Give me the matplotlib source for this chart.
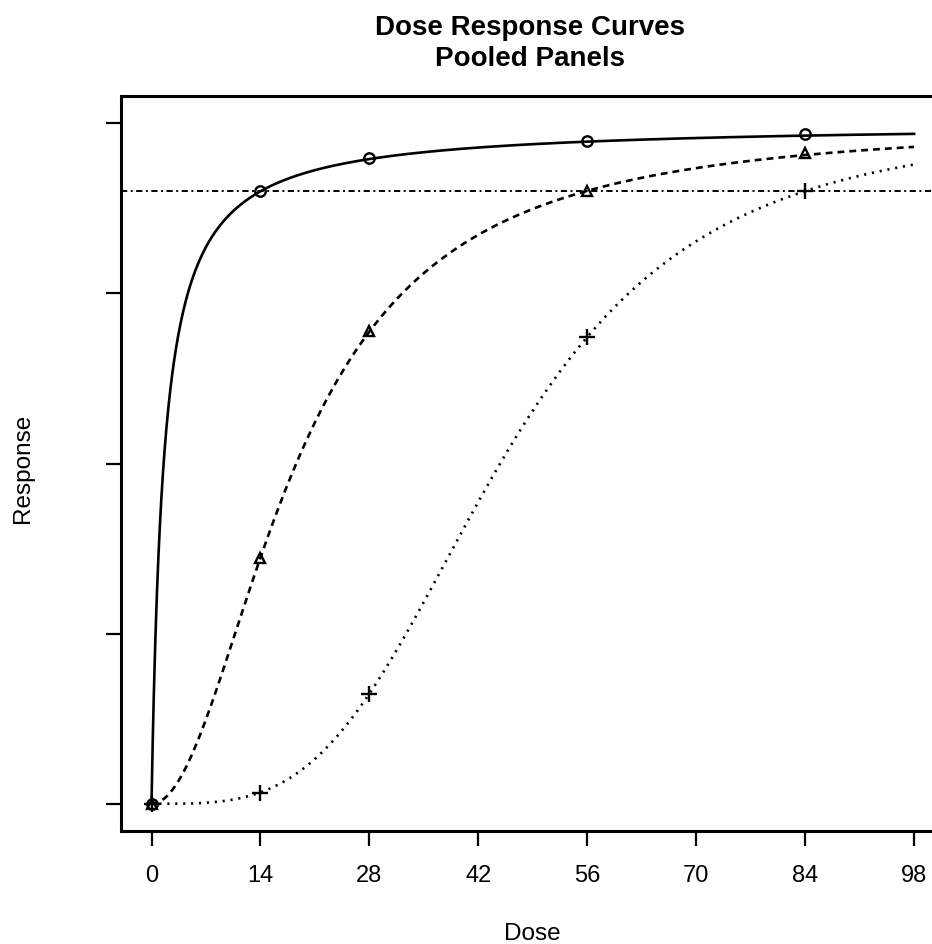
import numpy as np
import matplotlib
matplotlib.use("Agg")
import matplotlib.pyplot as plt

plt.rcParams['font.family'] = ['Liberation Sans', 'DejaVu Sans']

# Observed mean responses at each dose for the three pooled panels
doses = [0, 14, 28, 56, 84]
resp_a = [0.0, 0.900, 0.949, 0.974, 0.984]
resp_b = [0.0, 0.361, 0.695, 0.900, 0.956]
resp_c = [0.0, 0.016, 0.162, 0.686, 0.900]

# Fitted Hill model parameters (EC50, slope) for each panel
ec50 = [1.556, 18.6, 44.8]
hill = [1.0, 2.0, 3.5]

target_level = 0.9
x_ticks = [0, 14, 28, 42, 56, 70, 84, 98]
y_ticks = [0, 0.25, 0.5, 0.75, 1.0]

W, H = 932, 945
fig = plt.figure(figsize=(W / 100, H / 100), dpi=100)
ax = fig.add_axes([121 / W, (H - 832) / H, (944.6 - 121) / W, (832 - 97) / H])

grid = np.linspace(0, 98, 2000)


def hill_curve(x, e, n):
    return x ** n / (x ** n + e ** n)


styles = [
    dict(ls='-', marker='o', ms=7.5, data=resp_a),
    dict(ls=(0, (2.6, 1.9)), marker='^', ms=7.5, data=resp_b),
    dict(ls=(0, (0.8, 2.2)), marker='+', ms=11, data=resp_c),
]

for (e, n, st) in zip(ec50, hill, styles):
    ax.plot(grid, hill_curve(grid, e, n), color='black', lw=1.9, ls=st['ls'])
    ax.plot(doses, st['data'], ls='none', marker=st['marker'], ms=st['ms'],
            mfc='none', mec='black', mew=1.7)

ax.axhline(target_level, color='black', lw=1.4, ls=(0, (3.2, 1.8, 1, 1.8)))

ax.set_xlim(-3.92, 101.92)
ax.set_ylim(-0.04, 1.04)
ax.set_xticks(x_ticks)
ax.set_xticklabels([str(t) for t in x_ticks], fontsize=17)
ax.set_yticks(y_ticks)
ax.set_yticklabels([])
ax.tick_params(direction='out', length=11, width=1.6, pad=13)

for s in ax.spines.values():
    s.set_linewidth(2.2)

fig.text(532 / W, 1 - 940 / H, 'Dose', ha='center', va='baseline', fontsize=17.5)
fig.text(28.5 / W, 1 - 468 / H, 'Response', ha='center', va='baseline', rotation=90,
         fontsize=17.5, rotation_mode='anchor')

fig.text(530 / W, 1 - 35 / H, 'Dose Response Curves', ha='center', va='baseline',
         fontsize=20, fontweight='bold')
fig.text(530 / W, 1 - 66 / H, 'Pooled Panels', ha='center', va='baseline',
         fontsize=20, fontweight='bold')

fig.savefig('out.png', dpi=100)
